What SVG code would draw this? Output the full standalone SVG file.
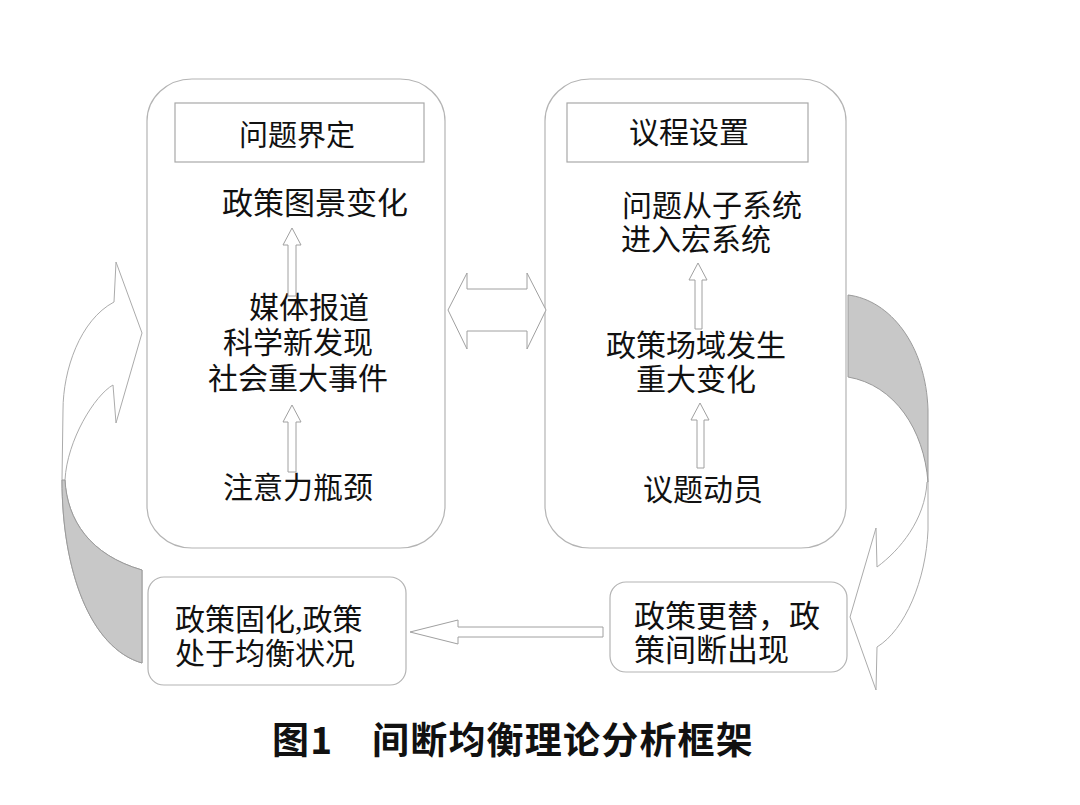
<svg xmlns="http://www.w3.org/2000/svg" width="1080" height="805" viewBox="0 0 1080 805">
<style>
.bg{fill:#ffffff}
.box{fill:#ffffff;stroke:#b4b4b4;stroke-width:1.2}
.hdr{fill:#ffffff;stroke:#a8a8a8;stroke-width:1.2}
.arr{fill:#ffffff;stroke:#a0a0a0;stroke-width:1}
.rib{fill:#ffffff;stroke:#ababab;stroke-width:1}
.shade{fill:#c8c8c8;stroke:#9a9a9a;stroke-width:1}
.t{font-family:"Liberation Serif","Noto Sans CJK SC","Noto Sans CJK JP",serif;font-size:30px;fill:#111111}
.tm{text-anchor:middle}
.title{font-family:"Noto Sans CJK SC","Noto Sans CJK JP",sans-serif;font-size:37px;font-weight:bold;fill:#111111;letter-spacing:1.2px}
</style>
<rect class="bg" x="0" y="0" width="1080" height="805"/>

<g id="left-ribbon">
<path class="rib" d="M142,663 C90,648 62,570 62,480 L63,410 C63,370 80,320 114,302 L116,262 L142,333 L116,423 L113,385 C95,395 67,440 65,480 C67,520 90,555 142,570 Z"/>
<path class="shade" d="M62,480 C62,570 90,648 142,663 L142,570 C90,555 67,520 65,480 Z"/>
</g>

<g id="right-ribbon">
<path class="rib" d="M928,482 L928,530 C926,580 905,630 877,647 L876,690 L850,617 L876,528 L877,567 C900,550 925,520 927,482 Z"/>
<path class="shade" d="M848,295 C890,300 926,345 928,410 L928,482 C924,430 895,385 848,377 Z"/>
</g>

<g id="problem-definition">
<rect class="box" x="147" y="79" width="298" height="469" rx="45" ry="42"/>
<rect class="hdr" x="175" y="103" width="249" height="59"/>
<text class="t tm" x="297" y="146" style="font-size:29px">问题界定</text>
<text class="t tm" x="315" y="214" style="font-size:31px">政策图景变化</text>
<text class="t tm"><tspan x="309" y="318">媒体报道</tspan><tspan x="298" y="353">科学新发现</tspan><tspan x="298" y="389">社会重大事件</tspan></text>
<text class="t tm" x="298" y="498">注意力瓶颈</text>
</g>

<g id="agenda-setting">
<rect class="box" x="545" y="79" width="301" height="469" rx="45" ry="42"/>
<rect class="hdr" x="567" y="103" width="241" height="59"/>
<text class="t tm" x="689" y="143">议程设置</text>
<text class="t tm"><tspan x="712" y="216">问题从子系统</tspan><tspan x="696" y="250">进入宏系统</tspan></text>
<text class="t tm"><tspan x="696" y="356">政策场域发生</tspan><tspan x="696" y="390">重大变化</tspan></text>
<text class="t tm" x="703" y="500">议题动员</text>
</g>

<g id="policy-stable">
<rect class="box" x="148" y="577" width="258" height="108" rx="16" ry="16"/>
<text class="t"><tspan x="175" y="630">政策固化,政策</tspan><tspan x="175" y="664">处于均衡状况</tspan></text>
</g>

<g id="policy-change">
<rect class="box" x="610" y="582" width="237" height="90" rx="16" ry="16"/>
<text class="t" style="font-size:31px"><tspan x="634" y="627">政策更替，政</tspan><tspan x="634" y="661">策间断出现</tspan></text>
</g>

<g id="connectors">
<polygon class="arr" points="292,228 301,245 296,245 296,296 288,296 288,245 283,245"/>
<polygon class="arr" points="292,405 301,422 296,422 296,472 288,472 288,422 283,422"/>
<polygon class="arr" points="698,263 707,280 702,280 702,329 695,329 695,280 689,280"/>
<polygon class="arr" points="700,403 709,420 704,420 704,468 697,468 697,420 691,420"/>
<polygon class="arr" points="448,310 467,273 467,289 527,289 527,273 546,310 527,349 527,331 467,331 467,349"/>
<polygon class="arr" points="410,632 458,620 458,627 603,627 603,637 458,637 458,644"/>
</g>

<text class="title"><tspan x="272" y="754">图1</tspan><tspan x="372" y="754">间断均衡理论分析框架</tspan></text>
</svg>
